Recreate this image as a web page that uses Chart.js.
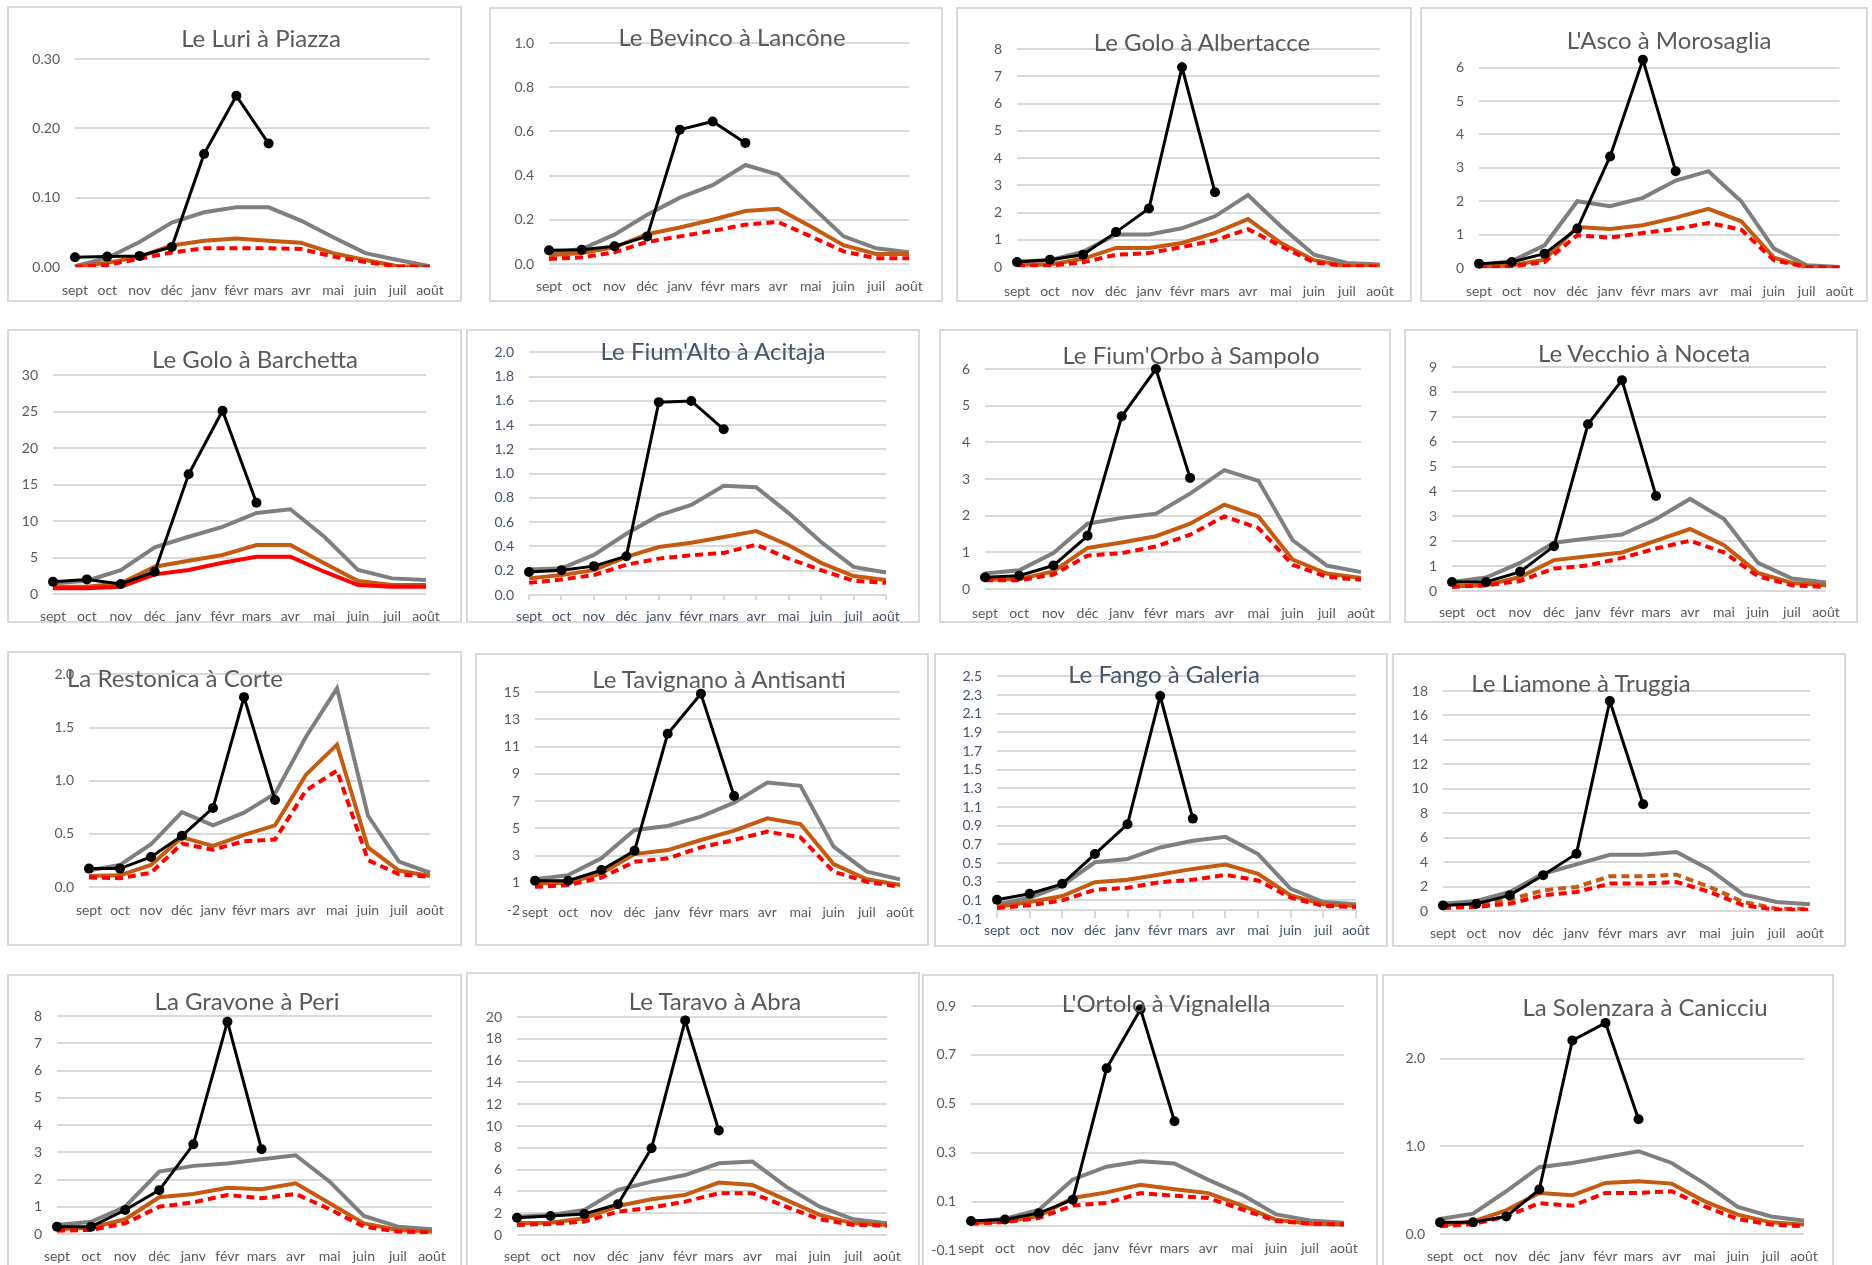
<!DOCTYPE html>
<html><head><meta charset="utf-8">
<script src="https://cdn.jsdelivr.net/npm/chart.js@4.4.1/dist/chart.umd.min.js"></script>
<style>
html,body{margin:0;padding:0;background:#fff}
body{width:1872px;height:1265px;overflow:hidden;position:relative;font-family:Lato,"Open Sans",sans-serif}
.panel{position:absolute;box-sizing:border-box;border:2px solid #d9d9d9;background:#fff}
.panel canvas{position:absolute;left:-2px;top:-2px}
.title{position:absolute;white-space:nowrap;transform:translate(-50%,-50%);font-size:24px;font-weight:400;color:#595959;line-height:1;z-index:2}
</style></head>
<body>
<script>
// ---------- categories ----------
const months = ['sept','oct','nov','déc','janv','févr','mars','avr','mai','juin','juil','août'];

// ---------- titles & y scales ----------
const titles = ["Le Luri à Piazza","Le Bevinco à Lancône","Le Golo à Albertacce","L'Asco à Morosaglia",
  "Le Golo à Barchetta","Le Fium'Alto à Acitaja","Le Fium'Orbo à Sampolo","Le Vecchio à Noceta",
  "La Restonica à Corte","Le Tavignano à Antisanti","Le Fango à Galeria","Le Liamone à Truggia",
  "La Gravone à Peri","Le Taravo à Abra","L'Ortolo à Vignalella","La Solenzara à Canicciu"];
const yMin = [0,0,0,0, 0,0,0,0, 0,-1.5,-0.1,0, 0,0,-0.1,0];
const yMax = [0.3,1,8,6.5, 30,2,6,9, 2,14.5,2.5,18, 8,20,0.9,2.5];
const yStep = [0.1,0.2,1,1, 5,0.2,1,1, 0.5,2,0.2,2, 1,2,0.2,1];
const yDecimals = [2,1,0,0, 0,1,0,0, 1,0,1,0, 0,0,1,1];

// ---------- series (black = current year, grey, orange, red dashed) ----------
const luri_current = [0.014,0.015,0.016,0.029,0.163,0.247,0.178];
const luri_mean    = [0.001,0.013,0.036,0.064,0.079,0.086,0.086,0.067,0.043,0.020,0.010,0.001];
const luri_median  = [0.000,0.006,0.015,0.031,0.038,0.041,0.038,0.035,0.020,0.010,0.001,0.000];
const luri_dry     = [0.000,0.003,0.012,0.021,0.027,0.027,0.027,0.026,0.015,0.007,0.001,0.000];

const bevinco_current = [0.062,0.065,0.080,0.125,0.608,0.645,0.548];
const bevinco_mean    = [0.050,0.068,0.133,0.223,0.300,0.357,0.448,0.405,0.264,0.125,0.071,0.053];
const bevinco_median  = [0.040,0.050,0.075,0.135,0.165,0.200,0.240,0.250,0.170,0.085,0.045,0.045];
const bevinco_dry     = [0.023,0.030,0.053,0.100,0.125,0.150,0.178,0.190,0.125,0.057,0.026,0.026];

const albertacce_current = [0.18,0.27,0.45,1.28,2.15,7.33,2.74];
const albertacce_mean    = [0.20,0.25,0.56,1.19,1.19,1.42,1.86,2.64,1.49,0.45,0.15,0.09];
const albertacce_median  = [0.09,0.09,0.30,0.70,0.70,0.88,1.25,1.76,0.88,0.25,0.03,0.03];
const albertacce_dry     = [0.03,0.05,0.17,0.45,0.51,0.73,0.98,1.39,0.76,0.17,0.03,0.03];

const asco_current = [0.13,0.18,0.43,1.18,3.34,6.24,2.90];
const asco_mean    = [0.08,0.21,0.68,2.00,1.85,2.10,2.62,2.90,2.00,0.58,0.08,0.03];
const asco_median  = [0.03,0.08,0.25,1.23,1.17,1.28,1.51,1.77,1.40,0.31,0.03,0.03];
const asco_dry     = [0.00,0.05,0.18,0.98,0.91,1.05,1.17,1.35,1.15,0.23,0.03,0.01];

const barchetta_current = [1.69,2.00,1.37,3.05,16.4,25.1,12.5];
const barchetta_mean    = [1.46,1.82,3.28,6.38,7.84,9.20,11.1,11.6,7.84,3.28,2.14,1.92];
const barchetta_median  = [1.00,1.00,1.46,3.74,4.56,5.34,6.70,6.70,4.20,1.78,1.23,1.23];
const barchetta_dry     = [0.78,0.78,1.00,2.69,3.28,4.29,5.10,5.10,3.05,1.23,1.00,1.00];

const fiumalto_current = [0.19,0.205,0.238,0.32,1.59,1.60,1.366];
const fiumalto_mean    = [0.21,0.22,0.33,0.505,0.656,0.743,0.90,0.888,0.675,0.437,0.232,0.186];
const fiumalto_median  = [0.137,0.164,0.205,0.314,0.396,0.43,0.478,0.527,0.41,0.265,0.156,0.123];
const fiumalto_dry     = [0.10,0.128,0.164,0.25,0.30,0.328,0.347,0.415,0.30,0.205,0.117,0.10];

const sampolo_current = [0.32,0.36,0.64,1.45,4.71,6.00,3.03];
const sampolo_mean    = [0.42,0.51,0.98,1.78,1.94,2.05,2.60,3.24,2.95,1.33,0.64,0.46];
const sampolo_median  = [0.25,0.27,0.48,1.12,1.27,1.44,1.78,2.30,1.98,0.80,0.42,0.30];
const sampolo_dry     = [0.24,0.24,0.39,0.91,0.98,1.16,1.48,1.98,1.66,0.66,0.33,0.25];

const noceta_current = [0.36,0.36,0.77,1.80,6.70,8.47,3.82];
const noceta_mean    = [0.36,0.54,1.13,1.94,2.11,2.27,2.89,3.70,2.89,1.13,0.50,0.34];
const noceta_median  = [0.19,0.23,0.56,1.24,1.40,1.55,2.02,2.49,1.84,0.73,0.32,0.23];
const noceta_dry     = [0.16,0.23,0.40,0.90,1.03,1.33,1.71,2.02,1.55,0.59,0.23,0.16];

const restonica_current = [0.173,0.173,0.283,0.482,0.744,1.786,0.818];
const restonica_mean    = [0.155,0.208,0.402,0.705,0.58,0.70,0.878,1.414,1.869,0.67,0.238,0.134];
const restonica_median  = [0.104,0.11,0.208,0.467,0.387,0.491,0.58,1.057,1.339,0.372,0.155,0.104];
const restonica_dry     = [0.089,0.083,0.134,0.408,0.351,0.43,0.446,0.908,1.095,0.253,0.119,0.095];

const antisanti_current = [0.65,0.65,1.43,2.85,11.43,14.37,6.87];
const antisanti_mean    = [0.75,1.06,2.29,4.37,4.67,5.35,6.38,7.85,7.61,3.15,1.31,0.75];
const antisanti_median  = [0.45,0.50,1.19,2.60,2.90,3.64,4.32,5.23,4.81,1.87,0.75,0.33];
const antisanti_dry     = [0.20,0.33,0.87,2.04,2.29,3.10,3.64,4.25,3.83,1.31,0.57,0.20];

const galeria_current = [0.107,0.17,0.277,0.596,0.916,2.29,0.976];
const galeria_mean    = [0.057,0.128,0.26,0.508,0.543,0.667,0.738,0.78,0.596,0.224,0.082,0.057];
const galeria_median  = [0.029,0.082,0.146,0.295,0.32,0.377,0.437,0.483,0.384,0.153,0.057,0.04];
const galeria_dry     = [0.018,0.047,0.10,0.213,0.235,0.295,0.32,0.373,0.313,0.128,0.04,0.029];

const truggia_current = [0.46,0.60,1.28,2.92,4.69,17.18,8.73];
const truggia_mean    = [0.60,0.82,1.55,3.05,3.82,4.60,4.60,4.83,3.38,1.36,0.74,0.55];
const truggia_median  = [0.33,0.46,0.93,1.69,1.96,2.84,2.84,2.97,1.96,0.74,0.19,0.19];
const truggia_dry     = [0.25,0.33,0.60,1.28,1.55,2.24,2.24,2.37,1.55,0.46,0.11,0.11];

const peri_current = [0.27,0.27,0.88,1.61,3.29,7.79,3.11];
const peri_mean    = [0.33,0.45,1.00,2.29,2.50,2.59,2.74,2.89,1.92,0.66,0.27,0.17];
const peri_median  = [0.17,0.23,0.54,1.35,1.47,1.70,1.64,1.86,1.13,0.39,0.15,0.09];
const peri_dry     = [0.12,0.15,0.39,1.00,1.16,1.43,1.31,1.47,0.91,0.27,0.09,0.05];

const abra_current = [1.59,1.75,1.93,2.82,7.96,19.69,9.59];
const abra_mean    = [1.68,1.84,2.30,4.13,4.90,5.50,6.58,6.74,4.44,2.60,1.44,1.07];
const abra_median  = [1.07,1.13,1.53,2.66,3.28,3.68,4.81,4.59,3.22,1.84,1.07,0.92];
const abra_dry     = [0.92,1.01,1.23,2.14,2.51,3.06,3.83,3.83,2.60,1.44,0.92,0.86];

const vignalella_current = [0.021,0.027,0.053,0.108,0.645,0.887,0.429];
const vignalella_mean    = [0.017,0.03,0.066,0.191,0.243,0.265,0.256,0.189,0.128,0.048,0.023,0.014];
const vignalella_median  = [0.013,0.019,0.041,0.115,0.138,0.169,0.151,0.135,0.084,0.026,0.01,0.007];
const vignalella_dry     = [0.01,0.017,0.033,0.084,0.095,0.135,0.124,0.115,0.068,0.021,0.01,0.007];

const canicciu_current = [0.133,0.133,0.20,0.507,2.21,2.41,1.31];
const canicciu_mean    = [0.171,0.232,0.488,0.762,0.811,0.88,0.945,0.811,0.575,0.309,0.20,0.152];
const canicciu_median  = [0.095,0.145,0.27,0.469,0.442,0.583,0.602,0.575,0.373,0.221,0.133,0.107];
const canicciu_dry     = [0.088,0.114,0.20,0.352,0.322,0.469,0.469,0.488,0.314,0.171,0.107,0.088];

const currentSeries = [luri_current,bevinco_current,albertacce_current,asco_current,barchetta_current,fiumalto_current,sampolo_current,noceta_current,restonica_current,antisanti_current,galeria_current,truggia_current,peri_current,abra_current,vignalella_current,canicciu_current];
const meanSeries = [luri_mean,bevinco_mean,albertacce_mean,asco_mean,barchetta_mean,fiumalto_mean,sampolo_mean,noceta_mean,restonica_mean,antisanti_mean,galeria_mean,truggia_mean,peri_mean,abra_mean,vignalella_mean,canicciu_mean];
const medianSeries = [luri_median,bevinco_median,albertacce_median,asco_median,barchetta_median,fiumalto_median,sampolo_median,noceta_median,restonica_median,antisanti_median,galeria_median,truggia_median,peri_median,abra_median,vignalella_median,canicciu_median];
const drySeries = [luri_dry,bevinco_dry,albertacce_dry,asco_dry,barchetta_dry,fiumalto_dry,sampolo_dry,noceta_dry,restonica_dry,antisanti_dry,galeria_dry,truggia_dry,peri_dry,abra_dry,vignalella_dry,canicciu_dry];

// ---------- layout (page pixels) ----------
const frames = [[7,6,455,296],[489,7,454,295],[956,7,456,295],[1420,7,448,295],
  [7,329,455,294],[466,329,454,294],[939,329,452,294],[1404,329,454,294],
  [7,651,455,295],[475,653,454,293],[934,653,454,294],[1392,653,454,294],
  [7,974,455,300],[466,972,454,302],[922,974,456,300],[1382,974,452,300]];
const plots = [[75,430,59,267],[549,909,43,264],[1017,1380,49,267],[1479,1842,51,268],
  [53,426,375,594],[529,886,351,595],[985,1361,369,589],[1452,1826,367,591],
  [89,430,663,887],[535,900,692,910],[997,1356,674,919],[1443,1810,691,911],
  [57,432,1016,1234],[517,887,1017,1235],[971,1344,1006,1254],[1440,1804,1015,1234]];
const titlePos = [[261,38],[732,37],[1202,42],[1669,40],[255,359],[713,351],[1191,355],[1644,353],
  [175,678],[719,679],[1164,674],[1581,683],[247,1001],[715,1001],[1166,1003],[1645,1007]];
const labelOffset = [23,22,24,23, 22,21,24,21, 23,2,11,22, 22,21,-2,22];
const blueText = [5,10];
const redSolid = [4];
const orangeDashed = [11];
const zeroAxis = {5:{ticks:5},10:{ticks:8},14:{ticks:0}};

const zeroAxisPlugin = {
  id:'zeroAxis',
  beforeDatasetsDraw(chart, args, opts){
    if(!opts || !opts.show) return;
    const {ctx, chartArea, scales} = chart;
    const y0 = Math.round(scales.y.getPixelForValue(0));
    ctx.save();
    ctx.strokeStyle = '#d9d9d9';
    ctx.lineWidth = 2;
    ctx.beginPath();
    ctx.moveTo(chartArea.left, y0); ctx.lineTo(chartArea.right, y0);
    if(opts.ticks){
      for(let k=0;k<scales.x.ticks.length;k++){
        const px = Math.round(scales.x.getPixelForTick(k));
        ctx.moveTo(px, y0); ctx.lineTo(px, y0+opts.ticks);
      }
    }
    ctx.stroke();
    ctx.restore();
  }
};

for(let i=0;i<16;i++){
  const [fx,fy,fw,fh] = frames[i];
  const [pl,pr,pt,pb] = plots[i];
  const txtColor = blueText.includes(i) ? '#44546A' : '#595959';
  const panel = document.createElement('div');
  panel.className='panel';
  Object.assign(panel.style,{left:fx+'px',top:fy+'px',width:fw+'px',height:fh+'px'});
  const cv = document.createElement('canvas');
  cv.width=fw; cv.height=fh; cv.style.width=fw+'px'; cv.style.height=fh+'px';
  panel.appendChild(cv);
  document.body.appendChild(panel);
  const t = document.createElement('div');
  t.className='title'; t.textContent=titles[i];
  t.style.left=titlePos[i][0]+'px'; t.style.top=titlePos[i][1]+'px'; t.style.color=txtColor;
  document.body.appendChild(t);

  const hideMin = yMin[i] < 0;
  const dec = yDecimals[i];
  new Chart(cv, {
    type:'line',
    data:{labels:months, datasets:[
      {data:currentSeries[i], borderColor:'#000', backgroundColor:'#000', borderWidth:3, pointRadius:5, pointBorderWidth:0, pointBackgroundColor:'#000', clip:false, tension:0},
      {data:drySeries[i], borderColor:'#ff0000', borderWidth:4, borderDash: redSolid.includes(i)?[]:[8,5], pointRadius:0, tension:0},
      {data:medianSeries[i], borderColor:'#c55a11', borderWidth:4, borderDash: orangeDashed.includes(i)?[8,5]:[], pointRadius:0, tension:0},
      {data:meanSeries[i], borderColor:'#7f7f7f', borderWidth:4, pointRadius:0, tension:0}
    ]},
    options:{
      responsive:false, animation:false, events:[],
      layout:{padding:{left:0, top:pt-fy, right:fx+fw-pr, bottom:0}},
      plugins:{legend:{display:false}, tooltip:{enabled:false}, title:{display:false},
        zeroAxis: zeroAxis[i] ? {show:true, ticks:zeroAxis[i].ticks} : {show:false}},
      scales:{
        x:{offset:false, grid:{display:false, drawTicks:false}, border:{display:false},
           ticks:{autoSkip:false, maxRotation:0, minRotation:0, padding:labelOffset[i]-8.4, color:txtColor, font:{family:'Lato', size:14}},
           afterFit(s){ s.height = fy+fh-pb; s._computeLabelArea = function(){ return undefined; }; }},
        y:{min:yMin[i], max:yMax[i],
           ticks:{stepSize:yStep[i], autoSkip:false, includeBounds:false, padding:15, color:txtColor, font:{family:'Lato', size:14},
                  callback:(v)=>Number(v).toFixed(dec)},
           grid:{drawTicks:false, lineWidth:2, color:(c)=> (hideMin && c.tick && Math.abs(c.tick.value-yMin[i])<1e-9) ? 'rgba(0,0,0,0)' : '#d9d9d9'},
           border:{display:false},
           afterFit(s){ s.width = pl-fx; }}
      }
    },
    plugins:[zeroAxisPlugin]
  });
}
</script>
</body></html>
